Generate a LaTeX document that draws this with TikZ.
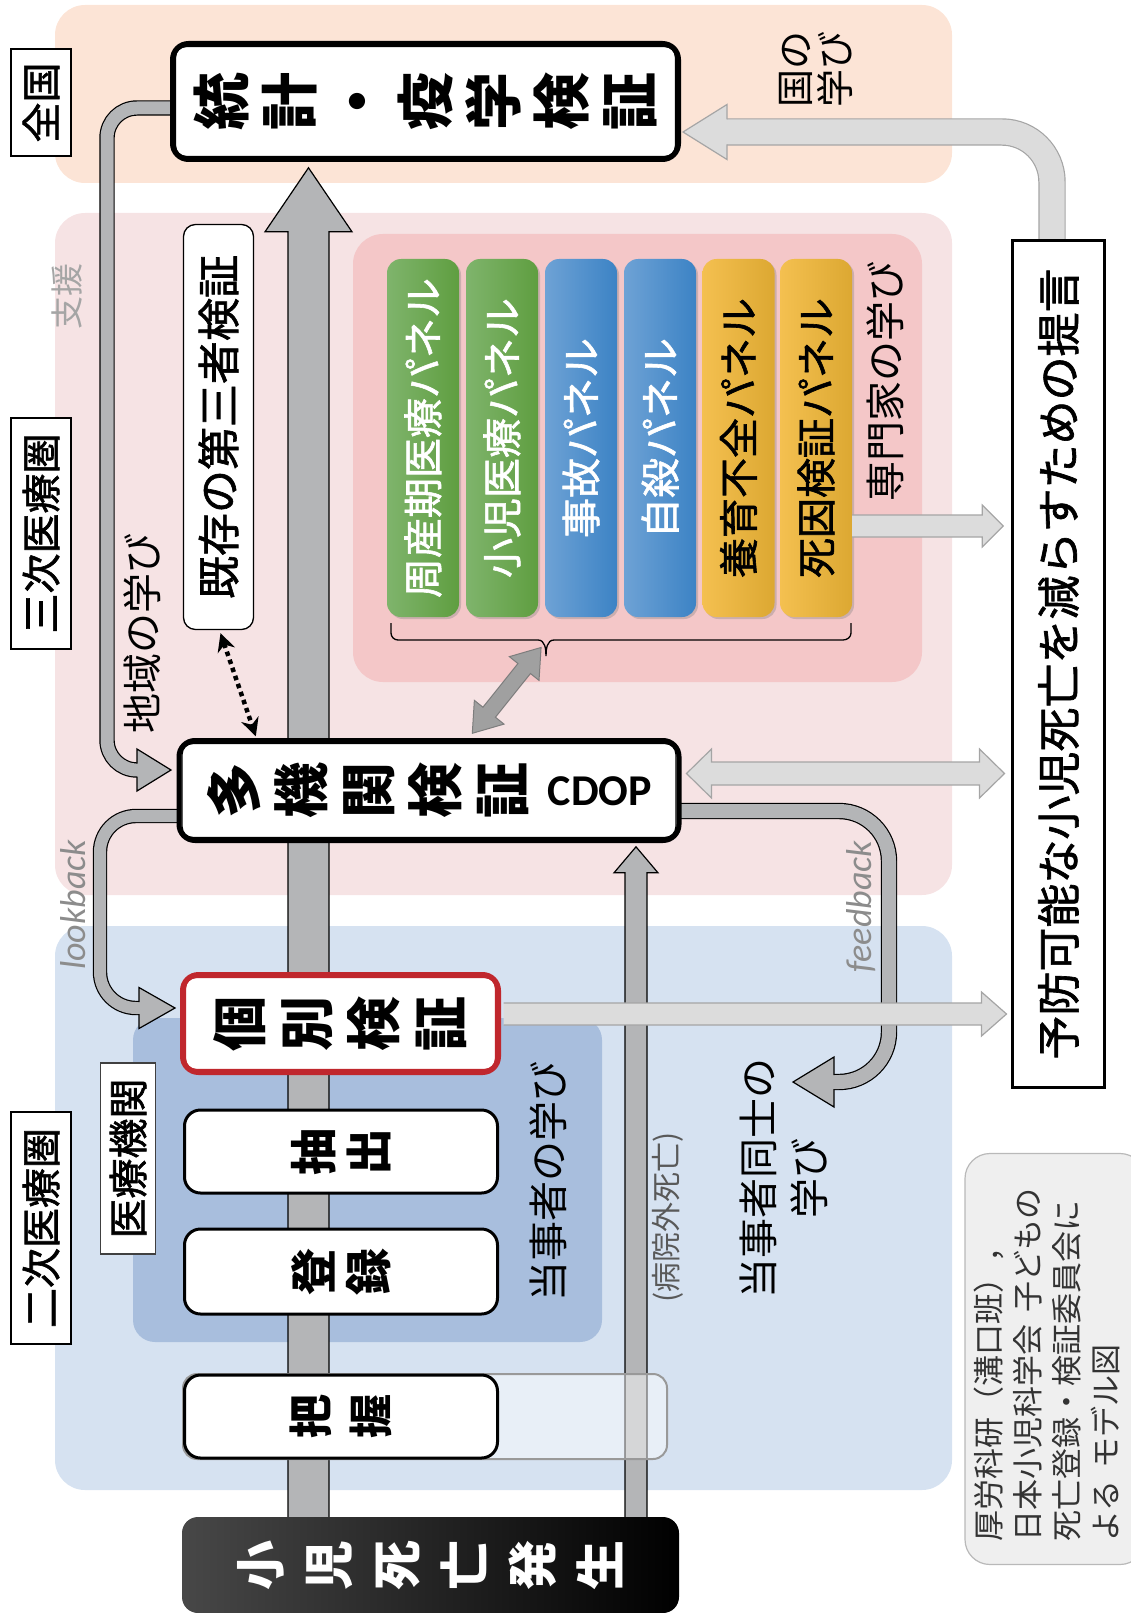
\documentclass[tikz,border=0pt]{standalone}
\usepackage{fontspec}
\usepackage{graphicx}
\usetikzlibrary{arrows.meta,shadows,calc}
\setmainfont{Carlito}
\newfontfamily\jp{Noto Sans CJK JP}
\newfontfamily\jpm{Noto Sans CJK JP}[FakeBold=1.5]
\newfontfamily\lat{Carlito}

\definecolor{bgorange}{RGB}{252,228,214}
\definecolor{bgpink}{RGB}{246,227,228}
\definecolor{pinkin}{RGB}{244,199,200}
\definecolor{bgblue}{RGB}{214,226,241}
\definecolor{bluein}{RGB}{168,190,221}
\definecolor{agray}{RGB}{180,181,183}
\definecolor{alight}{RGB}{220,220,220}
\definecolor{alightdraw}{RGB}{165,165,165}
\definecolor{amid}{RGB}{160,160,160}
\definecolor{amiddraw}{RGB}{125,125,125}
\definecolor{redbox}{RGB}{192,39,45}
\definecolor{notefill}{RGB}{239,239,239}
\definecolor{notedraw}{RGB}{185,185,185}
\definecolor{greenL}{RGB}{127,180,108}
\definecolor{greenR}{RGB}{95,158,64}
\definecolor{blueL}{RGB}{110,162,213}
\definecolor{blueR}{RGB}{60,131,197}
\definecolor{orangeL}{RGB}{244,192,80}
\definecolor{orangeR}{RGB}{220,168,50}
\definecolor{softgray}{RGB}{165,165,165}
\definecolor{labelgray}{RGB}{140,140,140}

\newcommand\fs[1]{\fontsize{#1}{#1}\selectfont}
\newcommand\tatechar[1]{\rotatebox[origin=c]{90}{\makebox[1em]{\vrule height .88em depth .12em width 0pt\relax #1}}}
\def\tateloop#1#2\tateend{\tatechar{#1}\ifx\relax#2\relax\else\hspace{\tategap}\tateloop#2\tateend\fi}
\newcommand\tate[2][0pt]{\def\tategap{#1}\tateloop#2\tateend}

% straight block arrow: style, start, angle, length, shaft half, head half, head length
\newcommand\sarrow[7]{%
 \begin{scope}[shift={#2}, rotate=#3]
  \filldraw[#1] (0,-#5) -- ({#4-#7},-#5) -- ({#4-#7},-#6) -- (#4,0) -- ({#4-#7},#6) -- ({#4-#7},#5) -- (0,#5);
 \end{scope}}
% double block arrow
\newcommand\darrow[7]{%
 \begin{scope}[shift={#2}, rotate=#3]
  \filldraw[#1] (0,0) -- (#7,-#6) -- (#7,-#5) -- ({#4-#7},-#5) -- ({#4-#7},-#6) -- (#4,0) -- ({#4-#7},#6) -- ({#4-#7},#5) -- (#7,#5) -- (#7,#6) -- cycle;
 \end{scope}}
% arrow head: fill, draw, base, angle, head half, head len, shaft half
\newcommand\bhead[7]{%
 \begin{scope}[shift={#3}, rotate=#4]
  \fill[#1] (0,-#5) -- (#6,0) -- (0,#5) -- cycle;
  \draw[#2, line width=1.2pt, line join=miter] (0,-#7) -- (0,-#5) -- (#6,0) -- (0,#5) -- (0,#7);
 \end{scope}}
% tube: fill, draw, width, radius, path
\newcommand\tube[5]{%
 \draw[#2, line width=#3+2.4pt, rounded corners=#4] #5;
 \draw[#1, line width=#3, rounded corners=#4] #5;}
\newcommand\innerframe[2]{\draw[#2, line width=1.3pt, rounded corners=11pt] ($(#1.south west)+(5.5,-5.5)$) rectangle ($(#1.north east)+(-5.5,5.5)$);}

\begin{document}
\begin{tikzpicture}[x=1pt,y=-1pt,
 bigbox/.style={draw, line width=5pt, rounded corners=16pt, fill=white, inner sep=0pt},
 stepbox/.style={draw, line width=3pt, rounded corners=16pt, fill=white, inner sep=0pt, font=\jp\bfseries\fs{47pt}},
 lbl/.style={draw, line width=1.2pt, fill=white, inner sep=0pt, font=\jpm\fs{40pt}},
 panel/.style={rounded corners=14pt, inner sep=0pt, minimum width=72pt, minimum height=358pt, drop shadow={shadow xshift=2pt, shadow yshift=-2pt, opacity=0.35}, font=\jpm\fs{40pt}},
 freelbl/.style={rotate=90, inner sep=0pt, font=\jp\fs{40pt}},
 darkarrow/.style={fill=agray, draw=black, line width=1.2pt},
 lightarrow/.style={fill=alight, draw=alightdraw, line width=1.2pt}]
\useasboundingbox (0,0) rectangle (1130,1613);

% background regions
\fill[bgorange, rounded corners=30pt] (55,5) rectangle (952,183);
\fill[bgpink, rounded corners=30pt] (55,213) rectangle (952,895);
\fill[bgblue, rounded corners=30pt] (55,926) rectangle (952,1490);
\fill[pinkin, rounded corners=30pt] (353,234) rectangle (922,682);
\fill[bluein, rounded corners=22pt] (133,1018) rectangle (602,1342);

% level labels
\node[lbl, minimum width=60pt, minimum height=107pt] (zenkoku) at (41,102.5) {\rotatebox{90}{全国}};
\node[lbl, minimum width=60pt, minimum height=231pt] (sanji) at (41,533.5) {\rotatebox{90}{三次医療圏}};
\node[lbl, minimum width=60pt, minimum height=232pt] (niji) at (41,1228) {\rotatebox{90}{二次医療圏}};
\node[lbl, draw=black!75, minimum width=55pt, minimum height=191pt] (kikan) at (128,1158.5) {\rotatebox{90}{医療機関}};

% anchor placeholders for the main boxes
\path (425.5,101.5) node[minimum width=506pt, minimum height=116pt, inner sep=0pt] (toukei) {};
\path (429,790.5) node[minimum width=500pt, minimum height=100pt, inner sep=0pt] (tagen) {};
\path (340.5,1023.5) node[minimum width=316pt, minimum height=98pt, inner sep=0pt] (kobetsu) {};
\path (430.5,1565) node[minimum width=497pt, minimum height=96pt, inner sep=0pt] (hassei) {};

% 地域の学び arrow
\tube{agray}{black}{13pt}{30pt}{($(toukei.west)+(0,6.5)$) -- (107,108) -- (107,770) -- (139,770)}
\bhead{agray}{black}{(137,770)}{0}{21}{34}{6.5}

% main vertical arrow
\sarrow{darkarrow}{($(hassei.north)+(-122,0)$)}{90}{1349}{20.5}{43.5}{64}
% 病院外死亡 arrow
\sarrow{darkarrow}{($(hassei.north)+(205.5,0)$)}{90}{670}{11}{22}{26}
% translucent extension of 把握
\draw[black!40, line width=2pt, fill=white, fill opacity=0.45, rounded corners=14pt] (183,1374) rectangle (667,1459);

% lookback
\tube{agray}{black}{12pt}{36pt}{($(tagen.west)+(0,25.5)$) -- (100,816) -- (100,1008) -- (141,1008)}
\bhead{agray}{black}{(139,1008)}{0}{20.5}{36}{6}
% feedback
\tube{agray}{black}{14pt}{50pt}{($(tagen.east)+(0,20.5)$) -- (889,811) -- (889,1082) -- (833,1082)}
\bhead{agray}{black}{(834,1082)}{180}{25}{41}{7}

% boxes
\node[bigbox, minimum width=506pt, minimum height=116pt, font=\jp\bfseries\fs{58pt}] (toukeiB) at (toukei) {\tate[10pt]{統計・疫学検証}};
\innerframe{toukeiB}{black}
\node[bigbox, minimum width=500pt, minimum height=100pt, font=\jp\bfseries\fs{56pt}] (tagenB) at (tagen) {\tate[11pt]{多機関検証}\hspace{18pt}\raisebox{6pt}{\lat\bfseries\fs{44pt}CDOP}};
\innerframe{tagenB}{black}
\node[bigbox, draw=redbox, minimum width=316pt, minimum height=98pt, font=\jp\bfseries\fs{55pt}] (kobetsuB) at (kobetsu) {\tate[12pt]{個別検証}};
\innerframe{kobetsuB}{redbox}
\node[stepbox, minimum width=313pt, minimum height=83pt] (chushutsu) at (341,1151.5) {\tate[8pt]{抽出}};
\node[stepbox, minimum width=313pt, minimum height=85pt] (touroku) at (341,1271.5) {\tate[8pt]{登録}};
\node[stepbox, minimum width=313pt, minimum height=83pt, font=\jp\bfseries\fs{44pt}] (haaku) at (341,1416.5) {\tate[16pt]{把握}};
\node[rounded corners=16pt, left color=black!72, right color=black, inner sep=0pt, minimum width=497pt, minimum height=96pt, text=white, font=\jp\bfseries\fs{50pt}] (hasseiB) at (hassei) {\tate[18pt]{小児死亡発生}};

% existing third-party review
\node[draw, line width=1.3pt, fill=white, rounded corners=12pt, inner sep=0pt, minimum width=70pt, minimum height=405pt, font=\jpm\fs{43pt}] (kizon) at (218.5,427) {\rotatebox{90}{既存の第三者検証}};

% panels
\node[panel, left color=greenL, right color=greenR, text=white] (p1) at (423,438) {\rotatebox{90}{周産期医療パネル}};
\node[panel, left color=greenL, right color=greenR, text=white] (p2) at (502,438) {\rotatebox{90}{小児医療パネル}};
\node[panel, left color=blueL, right color=blueR, text=white] (p3) at (581,438) {\rotatebox{90}{事故パネル}};
\node[panel, left color=blueL, right color=blueR, text=white] (p4) at (660,438) {\rotatebox{90}{自殺パネル}};
\node[panel, left color=orangeL, right color=orangeR, text=black] (p5) at (738.5,438) {\rotatebox{90}{養育不全パネル}};
\node[panel, left color=orangeL, right color=orangeR, text=black] (p6) at (816,438) {\rotatebox{90}{死因検証パネル}};

% brace under panels
\draw[line width=1.3pt] (391,623) -- (391,633) to[out=-90,in=180] (398,640) -- (538,640) to[out=0,in=90] (546,656) to[out=90,in=180] (554,640) -- (843,640) to[out=0,in=-90] (851,633) -- (851,623);

% dotted double arrow
\draw[line width=4.5pt, dash pattern=on 4.5pt off 4pt, {Stealth[length=18pt,width=18pt]}-{Stealth[length=18pt,width=18pt]}] ($(kizon.south)+(2,3)$) -- ($(tagen.north west)+(77,-4)$);
% grey double arrow panels <-> CDOP
\darrow{fill=amid, draw=amiddraw, line width=1pt}{($(tagen.north west)+(293.5,-7)$)}{51.3}{110}{8}{19}{27}

% light arrows to proposal
\tube{alight}{alightdraw}{25pt}{50pt}{(1052,240) -- (1052,132) -- (726,132)}
\bhead{alight}{alightdraw}{(727,132)}{180}{27.5}{44}{12.5}
\sarrow{lightarrow}{($(p6.east)+(0,88)$)}{0}{151}{11}{21}{21}
\darrow{lightarrow}{($(tagenB.east)+(5,-17)$)}{0}{318}{11.5}{24.5}{25}
\sarrow{lightarrow}{($(kobetsuB.east)+(2.5,-9.5)$)}{0}{503}{11}{22}{25}

% proposal box
\node[draw, line width=3pt, fill=white, inner sep=0pt, minimum width=92pt, minimum height=847pt, font=\jpm\fs{44pt}] (teigen) at (1058.5,664) {\rotatebox{90}{予防可能な小児死亡を減らすための提言}};

% labels
\node[freelbl, font=\jp\fs{33pt}, text=softgray] (shien) at (67,296) {支援};
\node[freelbl] (chiiki) at (142,633) {地域の学び};
\node[freelbl] (senmon) at (885,381) {専門家の学び};
\node[freelbl, align=center, font=\jp\fontsize{38pt}{40pt}\selectfont] (kuni) at (816,70) {国の\\学び};
\node[freelbl] (toujisha) at (548,1181) {当事者の学び};
\node[freelbl, align=center, font=\jp\fontsize{40pt}{51pt}\selectfont] (doushi) at (784,1178) {当事者同士の\\学び};
\node[freelbl, font=\jp\fs{30pt}, text=black!65] (byoin) at (668,1217) {(病院外死亡)};
\node[rotate=90, inner sep=0pt, font=\lat\itshape\fs{36pt}, text=labelgray] (look) at (73,905) {lookback};
\node[rotate=90, inner sep=0pt, font=\lat\itshape\fs{36pt}, text=labelgray] (feed) at (861,907) {feedback};

% source note
\node[fill=notefill, draw=notedraw, line width=1.2pt, rounded corners=25pt, minimum width=180pt, minimum height=411pt, inner sep=0pt] (note) at (1055,1359) {};
\node[rotate=90, anchor=west, align=left, inner sep=0pt, font=\jp\fontsize{31pt}{39pt}\selectfont, text=black!80] (notetext) at (1047,1542) {厚労科研（溝口班），\\日本小児科学会\hspace{0.4em}子どもの\\死亡登録・検証委員会に\\よる\hspace{0.4em}モデル図};
\end{tikzpicture}
\end{document}
